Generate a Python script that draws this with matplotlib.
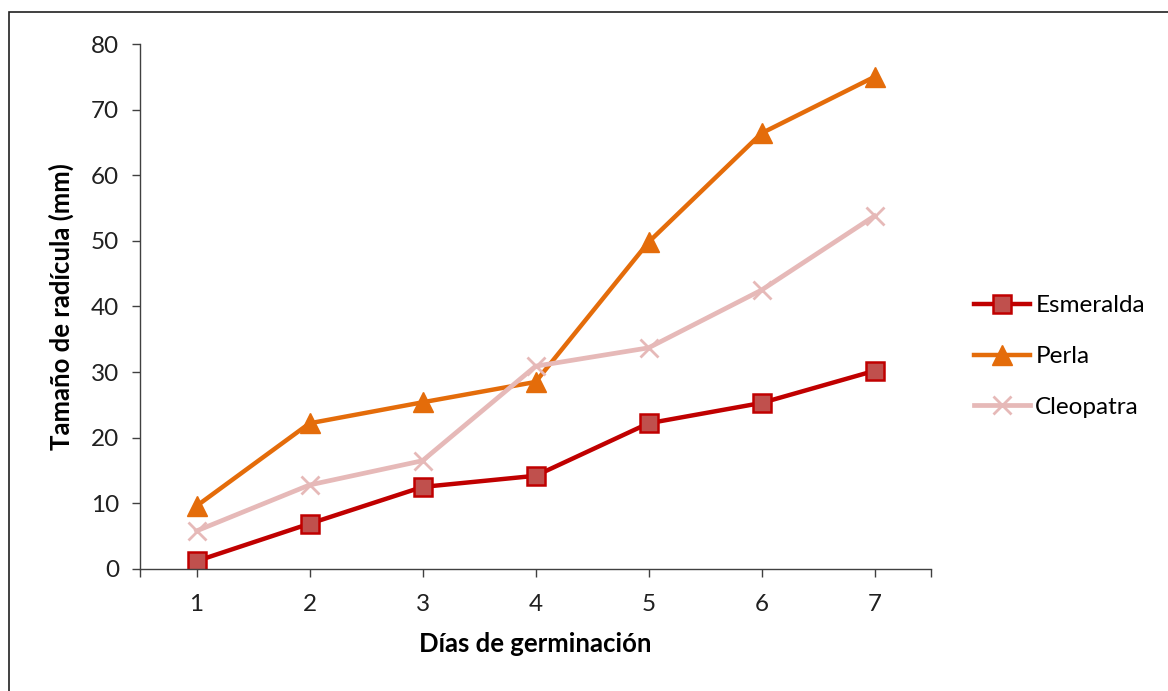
import matplotlib.pyplot as plt
from matplotlib.patches import Rectangle

plt.rcParams['font.family'] = ['Lato', 'DejaVu Sans']

# Días y tamaño medio de radícula (mm) por variedad
dias = [1, 2, 3, 4, 5, 6, 7]
esmeralda = [1.2, 6.9, 12.5, 14.2, 22.2, 25.3, 30.2]
perla = [9.6, 22.2, 25.4, 28.5, 49.8, 66.4, 75.0]
cleopatra = [5.8, 12.8, 16.5, 30.9, 33.7, 42.5, 53.8]

fig = plt.figure(figsize=(11.68, 6.91), dpi=100)
ax = fig.add_axes([0.1199, 0.1766, 0.6772, 0.7597])

ax.plot(dias, esmeralda, color='#C00000', lw=3.2, marker='s', ms=13,
        mfc='#C0504D', mec='#C00000', mew=1.8, label='Esmeralda')
ax.plot(dias, perla, color='#E46C0A', lw=3.2, marker='^', ms=14,
        mfc='#E46C0A', mec='#E46C0A', label='Perla')
ax.plot(dias, cleopatra, color='#E6B9B8', lw=3.4, marker='x', ms=13,
        mew=2, mec='#E6B9B8', label='Cleopatra')

ax.set_xlim(0.5, 7.5)
ax.set_ylim(0, 80)
ax.set_xticks(dias)
ax.set_xticks([0.5, 7.5], minor=True)
ax.set_yticks(range(0, 81, 10))
ax.tick_params(axis='both', which='both', direction='out', length=6,
               width=1, colors='#404040', labelsize=17.5, labelcolor='#202020')
ax.tick_params(axis='x', pad=12)
ax.tick_params(axis='y', pad=9)

for s in ['top', 'right']:
    ax.spines[s].set_visible(False)
for s in ['left', 'bottom']:
    ax.spines[s].set_color('#404040')
    ax.spines[s].set_linewidth(1)

ax.set_xlabel('Días de germinación', fontsize=18.5, fontweight='bold', labelpad=12)
ax.set_ylabel('Tamaño de radícula (mm)', fontsize=18.5, fontweight='bold', labelpad=12)

ax.legend(loc='center left', bbox_to_anchor=(0.826, 0.484),
          bbox_transform=fig.transFigure, frameon=False, fontsize=17.5,
          handlelength=2.3, handletextpad=0.2, labelspacing=1.22,
          borderaxespad=0)

# marco exterior del gráfico
fig.patches.append(Rectangle((8.5 / 1168, -0.1), 1.2, 1.1 - 12.5 / 691,
                             transform=fig.transFigure, fill=False,
                             ec='#202020', lw=1.2, clip_on=False))

fig.savefig('out.png', dpi=100)
